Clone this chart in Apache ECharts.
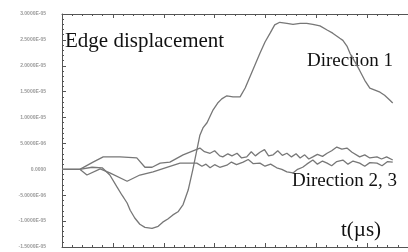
<!DOCTYPE html>
<html>
<head>
<meta charset="utf-8">
<script src="https://cdn.jsdelivr.net/npm/echarts@6/dist/echarts.min.js"></script>
<style>
  html, body { margin: 0; padding: 0; background: #fff; }
  #chart { width: 408px; height: 252px; }
</style>
</head>
<body>
<div id="chart"></div>
<script>
// values in units of 1E-06, x in plot units
const yTickLabels = ['-1.5000E-05', '-1.0000E-05', '-5.0000E-06', '0.0000', '5.0000E-06',
  '1.0000E-05', '1.5000E-05', '2.0000E-05', '2.5000E-05', '3.0000E-05']

const dir1 = [
  [0, 0], [3.5, 0], [5.9, 0.4], [7.9, 0.3], [9.4, -1.1], [10.8, -3.4], [11.8, -5.0],
  [12.8, -6.5], [13.4, -7.9], [14.3, -9.4], [15.3, -10.6], [16.3, -11.2], [17.7, -11.4],
  [18.9, -11.0], [19.8, -10.2], [20.8, -9.6], [21.8, -8.8], [22.8, -8.2], [23.8, -6.8],
  [24.8, -4.0], [25.7, -0.1], [26.5, 3.7], [27.1, 6.6], [27.7, 8.0], [28.5, 9.0],
  [29.7, 11.5], [30.6, 12.8], [31.4, 13.6], [32.4, 14.2], [33.6, 14.0], [35.0, 14.0],
  [36.0, 15.7], [36.9, 17.8], [37.9, 20.1], [38.9, 22.4], [39.9, 24.6], [40.9, 26.3],
  [41.8, 27.9], [42.8, 28.4], [44.2, 28.2], [45.4, 28.0], [46.8, 28.2], [48.1, 28.2],
  [49.3, 28.0], [50.7, 27.7], [52.1, 26.9], [53.2, 26.3], [54.6, 25.3], [55.2, 24.9],
  [56.0, 23.8], [56.6, 22.4], [57.6, 20.7], [58.5, 19.1], [59.5, 17.2], [60.5, 15.7],
  [61.5, 15.3], [62.5, 14.9], [63.4, 14.3], [64.4, 13.4], [65.0, 12.8]
]

const dir2 = [
  [0, 0], [3.5, 0], [6.1, 1.4], [8.1, 2.4], [11.4, 2.4], [14.7, 2.2], [16.3, 0.4],
  [17.7, 0.4], [19.3, 1.2], [21.2, 1.4], [23.8, 2.8], [27.1, 4.1], [28.0, 3.4],
  [29.1, 3.1], [30.0, 3.6], [31.0, 2.6], [31.6, 2.4], [32.6, 3.0], [33.4, 2.6],
  [34.4, 3.1], [35.3, 2.2], [36.3, 2.4], [37.2, 3.4], [38.0, 2.6], [38.9, 3.3],
  [39.8, 3.8], [40.6, 2.6], [41.5, 2.8], [42.4, 3.6], [43.3, 2.7], [44.2, 3.1],
  [45.1, 2.4], [46.0, 3.0], [46.8, 2.2], [47.7, 2.8], [48.5, 2.0], [49.3, 2.4],
  [50.2, 2.9], [51.2, 2.5], [52.1, 3.1], [53.0, 3.6], [54.0, 4.3], [55.0, 3.9],
  [56.0, 4.1], [57.0, 3.3], [58.5, 2.4], [59.5, 2.8], [60.5, 2.2], [61.9, 2.4],
  [62.8, 2.0], [63.8, 2.4], [65.0, 1.8]
]

const dir3 = [
  [0, 0], [3.5, 0], [4.9, -1.1], [7.5, 0.1], [9.4, -0.7], [12.8, -2.3], [15.3, -1.1],
  [17.9, -0.5], [20.6, 0.4], [23.2, 1.2], [26.5, 1.2], [27.5, 0.6], [28.3, 1.0],
  [29.1, 0.3], [30.0, 0.9], [31.0, 0.4], [32.4, 0.8], [33.3, 1.4], [34.3, 0.9],
  [35.6, 1.4], [36.6, 1.9], [37.6, 1.1], [38.9, 1.2], [39.9, 0.6], [41.0, 1.0],
  [42.2, 0.3], [43.2, 0.0], [44.2, -0.5], [45.4, -0.7], [46.3, 0.0], [47.3, 0.4],
  [48.1, 1.0], [49.3, 1.8], [50.2, 1.0], [51.2, 1.6], [52.1, 1.2], [53.0, 0.7],
  [54.0, 1.5], [55.2, 1.8], [56.2, 1.0], [57.2, 1.6], [58.5, 1.2], [59.5, 0.6],
  [60.5, 1.3], [61.9, 1.2], [62.9, 0.7], [64.0, 1.5], [65.0, 1.4]
]

const axisColor = '#555'
const lineColor = '#777'
const serif = 'Liberation Serif'

const chart = echarts.init(document.getElementById('chart'))

function xAxisOf(position) {
  return {
    type: 'value',
    position: position,
    min: 0,
    max: 68,
    interval: 10,
    axisLine: { show: true, onZero: false, lineStyle: { color: axisColor, width: 1 } },
    axisTick: { show: true, inside: true, length: 4, lineStyle: { color: axisColor } },
    minorTick: { show: true, splitNumber: 5, length: 2, lineStyle: { color: axisColor } },
    axisLabel: { show: false },
    splitLine: { show: false }
  }
}

function lineSeries(data) {
  return {
    type: 'line',
    data: data,
    showSymbol: false,
    animation: false,
    lineStyle: { color: lineColor, width: 1.3 },
    itemStyle: { color: lineColor }
  }
}

chart.setOption({
  backgroundColor: '#fff',
  grid: { left: 62, right: 0, top: 14, bottom: 5 },
  xAxis: [xAxisOf('bottom'), xAxisOf('top')],
  yAxis: {
    type: 'value',
    min: -15,
    max: 30,
    interval: 5,
    axisLine: { show: true, lineStyle: { color: axisColor, width: 1 } },
    axisTick: { show: true, inside: true, length: 4, lineStyle: { color: axisColor } },
    minorTick: { show: true, splitNumber: 5, length: 2, lineStyle: { color: axisColor } },
    splitLine: { show: false },
    axisLabel: {
      margin: 16,
      fontSize: 5,
      fontWeight: 'bold',
      color: '#999',
      formatter: function (v) {
        return yTickLabels[Math.round((v + 15) / 5)]
      }
    }
  },
  series: [lineSeries(dir1), lineSeries(dir2), lineSeries(dir3)],
  graphic: [
    { type: 'text', left: 65, top: 31, style: { text: 'Edge displacement', font: '21px ' + serif, fill: '#111' } },
    { type: 'text', left: 307, top: 52, style: { text: 'Direction 1', font: '19px ' + serif, fill: '#111' } },
    { type: 'text', left: 292, top: 172, style: { text: 'Direction 2, 3', font: '19px ' + serif, fill: '#111' } },
    { type: 'text', left: 341, top: 220, style: { text: 't(\u00b5s)', font: '21px ' + serif, fill: '#111' } }
  ]
})
</script>
</body>
</html>
